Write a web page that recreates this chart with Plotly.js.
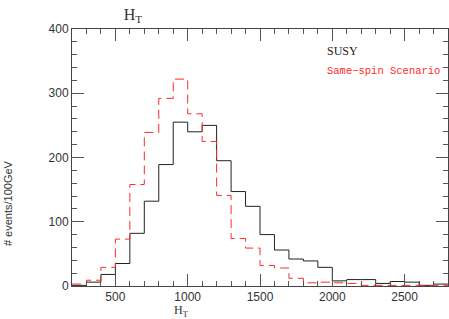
<!DOCTYPE html>
<html>
<head>
<meta charset="utf-8">
<script src="https://cdn.plot.ly/plotly-3.0.1.min.js"></script>
<style>html,body{margin:0;padding:0;background:#fff;}#chart{width:449px;height:319px;}</style>
</head>
<body>
<div id="chart"></div>
<script>
// Bin edges (GeV), 100 GeV bins
const binEdges = [200,300,400,500,600,700,800,900,1000,1100,1200,1300,1400,1500,1600,1700,1800,1900,2000,2100,2200,2300,2400,2500,2600,2700,2800];
// SUSY (black solid) events per bin
const susy = [1,6,18,35,82,132,189,255,240,250,195,147,124,80,56,42,39,29,8,10,10,4,7,6,1,3];
// Same-spin scenario (red dashed) events per bin
const sameSpin = [3,9,29,73,158,239,292,322,268,225,141,74,59,32,28,12,5,6,5,4,1,1,1,1,1,1];
const xTickVals = [500,1000,1500,2000,2500];
const yTickVals = [0,100,200,300,400];

function stepY(v){ return v.concat([v[v.length-1]]); }

const traces = [
  {x: binEdges, y: stepY(susy), type:'scatter', mode:'lines', line:{shape:'hv', color:'#222', width:1}, hoverinfo:'skip'},
  {x: binEdges, y: stepY(sameSpin), type:'scatter', mode:'lines', line:{shape:'hv', color:'#ff2a2a', width:1, dash:'9px,5px'}, hoverinfo:'skip'}
];

const axisCommon = {
  showgrid:false, zeroline:false, showline:true, linecolor:'#444', linewidth:1,
  mirror:'allticks', ticks:'inside', ticklen:12, tickcolor:'#555', tickwidth:1,
  tickfont:{family:'Liberation Sans, Arial, sans-serif', size:12, color:'#333'}
};

const layout = {
  width:449, height:319,
  margin:{l:72, r:1, t:29, b:33},
  paper_bgcolor:'#fff', plot_bgcolor:'#fff',
  showlegend:false,
  title:{text:'H<sub>T</sub>', font:{family:'Liberation Serif, Times New Roman, serif', size:16, color:'#333'},
         xref:'paper', x:0.162, xanchor:'center', yref:'container', y:0.955, yanchor:'middle'},
  xaxis: Object.assign({}, axisCommon, {range:[200,2800], tickvals:xTickVals, ticktext:xTickVals.map(String),
    minor:{dtick:100, tick0:0, ticks:'inside', ticklen:5, tickcolor:'#555', showgrid:false}}),
  yaxis: Object.assign({}, axisCommon, {range:[0,400], tickvals:yTickVals, ticktext:yTickVals.map(String),
    minor:{dtick:20, tick0:0, ticks:'inside', ticklen:5, tickcolor:'#555', showgrid:false}}),
  annotations:[
    {text:'H<sub>T</sub>', xref:'paper', yref:'paper', x:0.29, y:-0.097, xanchor:'center', yanchor:'middle', showarrow:false,
     font:{family:'Liberation Serif, Times New Roman, serif', size:12, color:'#333'}},
    {text:'# events/100GeV', xref:'paper', yref:'paper', x:-0.17, y:0.323, xanchor:'center', yanchor:'middle', textangle:-90, showarrow:false,
     font:{family:'Liberation Sans, Arial, sans-serif', size:11, color:'#333'}},
    {text:'SUSY', xref:'paper', yref:'paper', x:0.673, y:0.9156, xanchor:'left', yanchor:'middle', showarrow:false,
     font:{family:'Liberation Serif, Times New Roman, serif', size:12, color:'#222'}},
    {text:'Same\u2212spin Scenario', xref:'paper', yref:'paper', x:0.673, y:0.838, xanchor:'left', yanchor:'middle', showarrow:false,
     font:{family:'Liberation Mono, Courier New, monospace', size:10.5, color:'#ff2a2a'}}
  ]
};

Plotly.newPlot('chart', traces, layout, {staticPlot:true, displayModeBar:false});
</script>
</body>
</html>
